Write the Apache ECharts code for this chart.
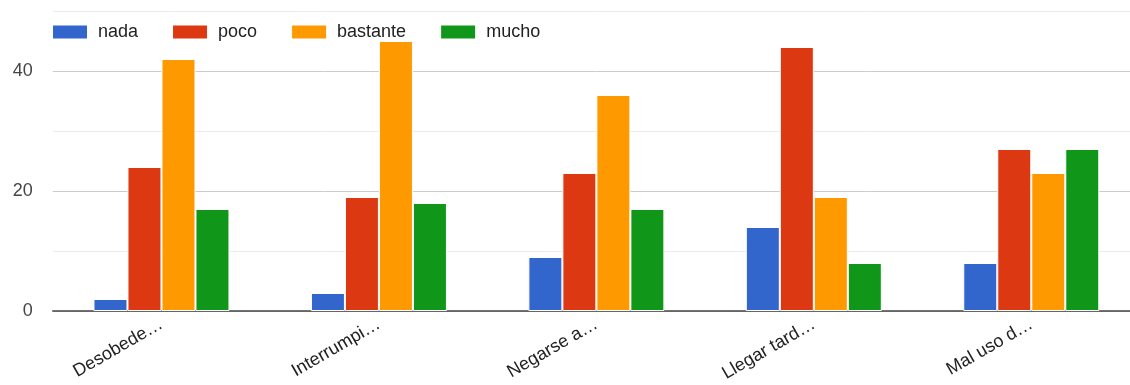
<!DOCTYPE html>
<html>
<head>
<meta charset="utf-8">
<script src="https://cdn.jsdelivr.net/npm/echarts@6/dist/echarts.min.js"></script>
<style>html,body{margin:0;padding:0;background:#fff;overflow:hidden;width:1130px;height:385px}#c{width:1140px;height:385px}</style>
</head>
<body>
<div id="c"></div>
<script>
const categories = ['Desobede\u2026', 'Interrumpi\u2026', 'Negarse a\u2026', 'Llegar tard\u2026', 'Mal uso d\u2026'];
const seriesNames = ['nada', 'poco', 'bastante', 'mucho'];
const nada = [2, 3, 9, 14, 8];
const poco = [24, 19, 23, 44, 27];
const bastante = [42, 45, 36, 19, 23];
const mucho = [17, 18, 17, 8, 27];
const yTickLabels = [0, 20, 40];
const colors = ['#3366cc', '#dc3912', '#ff9900', '#109618'];

const values = [nada, poco, bastante, mucho];
const chart = echarts.init(document.getElementById('c'));
chart.setOption({
  animation: false,
  color: colors,
  textStyle: { fontFamily: 'Liberation Sans, Arial, sans-serif' },
  legend: {
    left: 51, top: 23, padding: 0,
    itemWidth: 36, itemHeight: 15, itemGap: 33,
    icon: 'rect',
    textStyle: { fontSize: 18, color: '#222', padding: [0, 0, 0, 5] },
    data: seriesNames
  },
  grid: { left: 52.75, right: 0, top: 11, bottom: 74, containLabel: false },
  xAxis: {
    type: 'category',
    data: categories,
    axisTick: { show: false },
    axisLine: { lineStyle: { color: '#444', width: 1.5 } },
    axisLabel: { rotate: 30, fontSize: 18, color: '#222', margin: 12, interval: 0 }
  },
  yAxis: {
    type: 'value', min: 0, max: 50, interval: 10,
    axisLine: { show: false }, axisTick: { show: false },
    splitLine: { lineStyle: { color: ['#cccccc', '#ebebeb'], width: 1 } },
    axisLabel: {
      fontSize: 18, color: '#444', margin: 20,
      formatter: v => yTickLabels.includes(v) ? String(v) : ''
    }
  },
  series: seriesNames.map((n, i) => ({
    name: n, type: 'bar', data: values[i],
    barWidth: 34, barGap: '0%',
    itemStyle: { borderColor: '#fff', borderWidth: 1 }
  }))
});
</script>
</body>
</html>
